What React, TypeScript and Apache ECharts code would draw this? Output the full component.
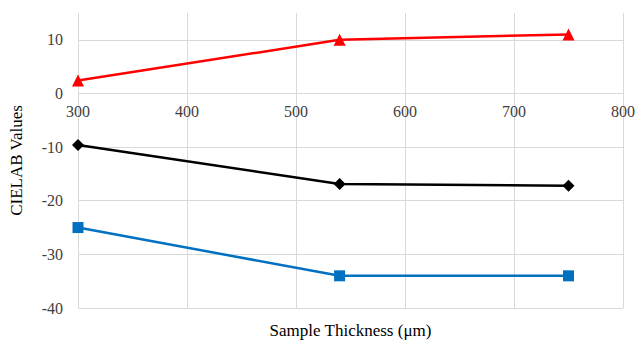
import React, { useEffect, useRef } from "react";
import * as echarts from "echarts";

const thickness = [300, 540, 750];
const redValues = [2.4, 10.0, 11.0];
const blackValues = [-9.6, -16.9, -17.2];
const blueValues = [-25.0, -34.0, -34.0];
const yLabels = [-40, -30, -20, -10, 0, 10];

const FONT = "serif";

export default function App() {
  const ref = useRef<HTMLDivElement>(null);
  useEffect(() => {
    if (!ref.current) return;
    const chart = echarts.init(ref.current, null, { renderer: "svg" });
    const mk = (vals: number[]) => thickness.map((x, i) => [x, vals[i]]);
    chart.setOption({
      animation: false,
      backgroundColor: "#ffffff",
      textStyle: { fontFamily: FONT },
      grid: { left: 78, right: 17, top: 13, bottom: 35, containLabel: false, outerBoundsMode: "none" },
      xAxis: [
        {
          type: "value",
          min: 300,
          max: 800,
          interval: 100,
          position: "bottom",
          offset: -215,
          axisLine: { show: false },
          axisTick: { show: false },
          axisLabel: { fontFamily: FONT, fontSize: 16, color: "#404040", margin: 10 },
          splitLine: { show: true, lineStyle: { color: "#d9d9d9", width: 1 } },
        },
        {
          type: "value",
          min: 300,
          max: 800,
          interval: 100,
          position: "bottom",
          name: "Sample Thickness (μm)",
          nameLocation: "middle",
          nameGap: 14,
          nameTextStyle: { fontFamily: FONT, fontSize: 17, color: "#000" },
          axisLine: { show: false },
          axisTick: { show: false },
          axisLabel: { show: false },
          splitLine: { show: false },
        },
      ],
      yAxis: {
        type: "value",
        min: -40,
        max: 15,
        interval: 5,
        name: "CIELAB Values",
        nameLocation: "middle",
        nameGap: 53,
        nameRotate: 90,
        nameTextStyle: { fontFamily: FONT, fontSize: 17, color: "#000" },
        axisLine: { show: false },
        axisTick: { show: false },
        axisLabel: {
          fontFamily: FONT,
          fontSize: 16,
          color: "#404040",
          margin: 15,
          formatter: (v: number) => (yLabels.indexOf(v) >= 0 ? String(v) : ""),
        },
        splitLine: {
          show: true,
          lineStyle: { color: ["#d9d9d9", "rgba(0,0,0,0)"], width: 1 },
        },
      },
      series: [
        {
          type: "line",
          data: mk(redValues),
          symbol: "triangle",
          symbolSize: 12,
          lineStyle: { color: "#ff0000", width: 2.5 },
          itemStyle: { color: "#ff0000" },
        },
        {
          type: "line",
          data: mk(blackValues),
          symbol: "diamond",
          symbolSize: 12,
          lineStyle: { color: "#000000", width: 2.5 },
          itemStyle: { color: "#000000" },
        },
        {
          type: "line",
          data: mk(blueValues),
          symbol: "rect",
          symbolSize: 11,
          lineStyle: { color: "#0070c0", width: 2.5 },
          itemStyle: { color: "#0070c0" },
        },
      ],
    });
    return () => chart.dispose();
  }, []);
  return <div ref={ref} style={{ width: 640, height: 343, position: "absolute", left: 0, top: 0 }} />;
}
